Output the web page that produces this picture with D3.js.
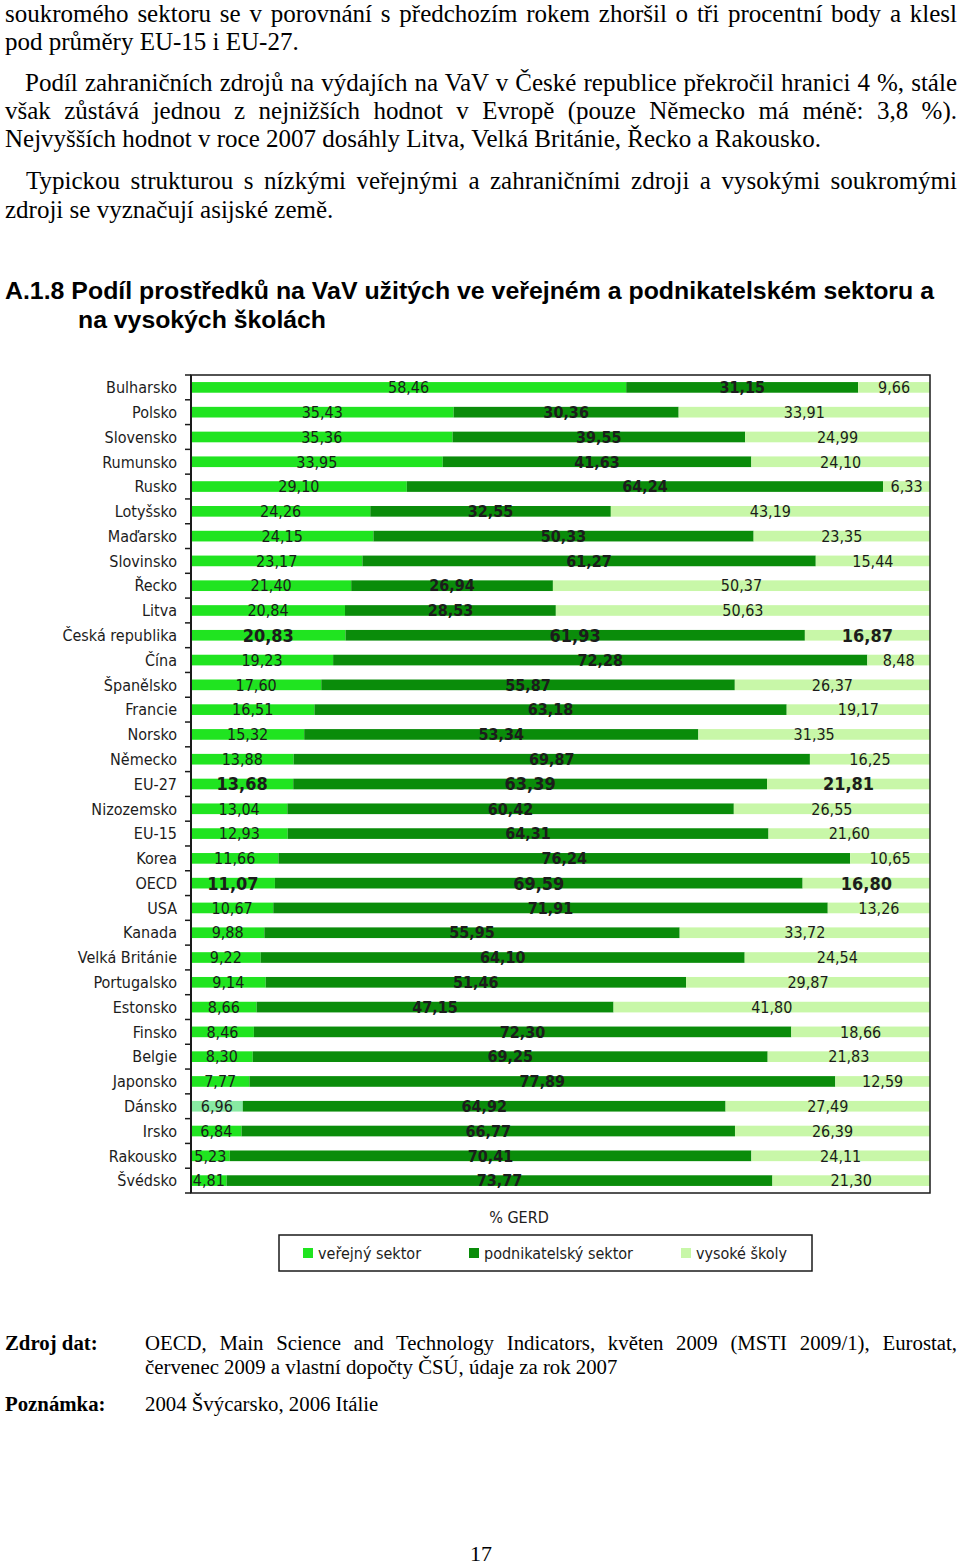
<!DOCTYPE html>
<html lang="cs">
<head>
<meta charset="utf-8">
<script src="https://cdn.jsdelivr.net/npm/d3@7"></script>
<style>
  html, body { margin: 0; padding: 0; background: #fff; }
  svg { display: block; }
  .serif { font-family: "Liberation Serif", "Times New Roman", serif; fill: #000; }
  .chart-font { font-family: "DejaVu Sans Condensed", "DejaVu Sans", sans-serif; fill: #1c1c1c; }
</style>
</head>
<body>
<div id="page"></div>
<script>
///// DATA //////
const categories = ['Bulharsko', 'Polsko', 'Slovensko', 'Rumunsko', 'Rusko', 'Lotyšsko', 'Maďarsko', 'Slovinsko', 'Řecko', 'Litva',
  'Česká republika', 'Čína', 'Španělsko', 'Francie', 'Norsko', 'Německo', 'EU-27', 'Nizozemsko', 'EU-15', 'Korea', 'OECD', 'USA',
  'Kanada', 'Velká Británie', 'Portugalsko', 'Estonsko', 'Finsko', 'Belgie', 'Japonsko', 'Dánsko', 'Irsko', 'Rakousko', 'Švédsko'];

const verejnySektor = [58.46, 35.43, 35.36, 33.95, 29.10, 24.26, 24.15, 23.17, 21.40, 20.84, 20.83, 19.23, 17.60, 16.51, 15.32, 13.88,
  13.68, 13.04, 12.93, 11.66, 11.07, 10.67, 9.88, 9.22, 9.14, 8.66, 8.46, 8.30, 7.77, 6.96, 6.84, 5.23, 4.81];

const podnikatelskySektor = [31.15, 30.36, 39.55, 41.63, 64.24, 32.55, 50.33, 61.27, 26.94, 28.53, 61.93, 72.28, 55.87, 63.18, 53.34, 69.87,
  63.39, 60.42, 64.31, 76.24, 69.59, 71.91, 55.95, 64.10, 51.46, 47.15, 72.30, 69.25, 77.89, 64.92, 66.77, 70.41, 73.77];

const vysokeSkoly = [9.66, 33.91, 24.99, 24.10, 6.33, 43.19, 23.35, 15.44, 50.37, 50.63, 16.87, 8.48, 26.37, 19.17, 31.35, 16.25,
  21.81, 26.55, 21.60, 10.65, 16.80, 13.26, 33.72, 24.54, 29.87, 41.80, 18.66, 21.83, 12.59, 27.49, 26.39, 24.11, 21.30];

const seriesKeys = ['verejny', 'podnik', 'vysoke'];
const seriesNames = ['veřejný sektor', 'podnikatelský sektor', 'vysoké školy'];
const highlighted = ['Česká republika', 'EU-27', 'OECD'];
const axisTitle = '% GERD';

const bodyLines = [
  'soukromého sektoru se v porovnání s předchozím rokem zhoršil o tři procentní body a klesl',
  'pod průměry EU-15 i EU-27.',
  'Podíl zahraničních zdrojů na výdajích na VaV v České republice překročil hranici 4 %, stále',
  'však zůstává jednou z nejnižších hodnot v Evropě (pouze Německo má méně: 3,8 %).',
  'Nejvyšších hodnot v roce 2007 dosáhly Litva, Velká Británie, Řecko a Rakousko.',
  'Typickou strukturou s nízkými veřejnými a zahraničními zdroji a vysokými soukromými',
  'zdroji se vyznačují asijské země.'
];
const titleLines = ['A.1.8 Podíl prostředků na VaV užitých ve veřejném a podnikatelském sektoru a', 'na vysokých školách'];
const sourceLines = ['OECD, Main Science and Technology Indicators, květen 2009 (MSTI 2009/1), Eurostat,',
  'červenec 2009 a vlastní dopočty ČSÚ, údaje za rok 2007'];
const noteLine = '2004 Švýcarsko, 2006 Itálie';

const colors = ['#20e420', '#0a8c0a', '#c8f7a8'];
const fmt = v => d3.format('.2f')(v).replace('.', ',');

///// PÁGINA //////
const svg = d3.select('#page').append('svg')
  .attr('width', 960).attr('height', 1565);

function justify(sel, width) {
  sel.each(function() {
    const natural = this.getComputedTextLength();
    const spaces = (this.textContent.match(/ /g) || []).length;
    if (spaces) d3.select(this).attr('word-spacing', (width - natural) / spaces);
  });
}

// Texto superior
const bodyPos = [
  {x: 5, y: 22, j: true}, {x: 5, y: 50, j: false},
  {x: 25, y: 91, j: true}, {x: 5, y: 119, j: true}, {x: 5, y: 147, j: false},
  {x: 26, y: 189, j: true}, {x: 5, y: 218, j: false}
];
bodyLines.forEach((t, i) => {
  const p = bodyPos[i];
  const el = svg.append('text').attr('class', 'serif')
    .attr('x', p.x).attr('y', p.y)
    .style('font-size', '25px')
    .text(t);
  if (p.j) justify(el, 957 - p.x);
});

// Título
svg.append('text')
  .attr('x', 5).attr('y', 299)
  .attr('textLength', 929).attr('lengthAdjust', 'spacingAndGlyphs')
  .style('font-family', '"Liberation Sans Narrow", "Liberation Sans", Arial, sans-serif')
  .style('font-weight', 'bold').style('font-size', '24px')
  .text(titleLines[0]);
svg.append('text')
  .attr('x', 78).attr('y', 328)
  .attr('textLength', 248).attr('lengthAdjust', 'spacingAndGlyphs')
  .style('font-family', '"Liberation Sans Narrow", "Liberation Sans", Arial, sans-serif')
  .style('font-weight', 'bold').style('font-size', '24px')
  .text(titleLines[1]);

///// GRÁFICO //////
const data = categories.map((c, i) => ({
  cat: c, verejny: verejnySektor[i], podnik: podnikatelskySektor[i], vysoke: vysokeSkoly[i]
}));

const stacked = d3.stack().keys(seriesKeys).offset(d3.stackOffsetExpand)(data);

const plotLeft = 191, plotRight = 930, plotTop = 375, plotBottom = 1193;

const x = d3.scaleLinear().domain([0, 1]).range([plotLeft, plotRight]);
const y = d3.scaleBand().domain(categories).range([plotTop, plotBottom]).padding(0);
const barH = y.bandwidth() * 0.43;

const chart = svg.append('g');

// Barras
stacked.forEach((serie, si) => {
  chart.append('g').selectAll('rect')
    .data(serie)
    .join('rect')
    .attr('x', d => x(d[0]))
    .attr('width', d => x(d[1]) - x(d[0]))
    .attr('y', d => y(d.data.cat) + (y.bandwidth() - barH) / 2)
    .attr('height', barH)
    .attr('fill', d => (si === 0 && d.data.cat === 'Dánsko') ? '#88eaa2' : colors[si]);
});

// Etiquetas de valores
stacked.forEach((serie, si) => {
  chart.append('g').selectAll('text')
    .data(serie)
    .join('text')
    .attr('class', 'chart-font')
    .attr('x', d => (x(d[0]) + x(d[1])) / 2)
    .attr('y', d => y(d.data.cat) + y.bandwidth() / 2)
    .attr('dy', '0.36em')
    .attr('text-anchor', 'middle')
    .style('font-size', d => highlighted.includes(d.data.cat) ? '18px' : '16px')
    .style('font-weight', d => (si === 1 || highlighted.includes(d.data.cat)) ? 'bold' : 'normal')
    .text(d => fmt(d.data[seriesKeys[si]]));
});

// Eje vertical con marcas entre categorías
chart.append('g').selectAll('line')
  .data(d3.range(categories.length + 1))
  .join('line')
  .attr('x1', plotLeft - 6).attr('x2', plotLeft)
  .attr('y1', i => i < categories.length ? y(categories[i]) : y.range()[1])
  .attr('y2', i => i < categories.length ? y(categories[i]) : y.range()[1])
  .attr('stroke', '#1a1a1a').attr('stroke-width', 1.5);

chart.append('rect')
  .attr('x', plotLeft).attr('y', plotTop)
  .attr('width', plotRight - plotLeft).attr('height', plotBottom - plotTop)
  .attr('fill', 'none').attr('stroke', '#1a1a1a').attr('stroke-width', 1.5);

chart.append('line')
  .attr('x1', plotLeft).attr('x2', plotLeft).attr('y1', plotTop).attr('y2', plotBottom)
  .attr('stroke', '#1a1a1a').attr('stroke-width', 2);

// Nombres de países
chart.append('g').selectAll('text')
  .data(categories)
  .join('text')
  .attr('class', 'chart-font')
  .attr('x', plotLeft - 14)
  .attr('y', d => y(d) + y.bandwidth() / 2)
  .attr('dy', '0.36em')
  .attr('text-anchor', 'end')
  .style('font-size', '16px')
  .text(d => d);

// Título del eje
chart.append('text')
  .attr('class', 'chart-font')
  .attr('x', 519).attr('y', 1217).attr('dy', '0.36em')
  .attr('text-anchor', 'middle')
  .style('font-size', '16px')
  .text(axisTitle);

// Leyenda
const legend = chart.append('g');
legend.append('rect')
  .attr('x', 279).attr('y', 1235).attr('width', 533).attr('height', 36)
  .attr('fill', '#fff').attr('stroke', '#1a1a1a').attr('stroke-width', 1.5);

const legendX = [303, 469, 681];
seriesNames.forEach((n, i) => {
  legend.append('rect')
    .attr('x', legendX[i]).attr('y', 1248).attr('width', 10).attr('height', 10)
    .attr('fill', colors[i]);
  legend.append('text')
    .attr('class', 'chart-font')
    .attr('x', legendX[i] + 15).attr('y', 1253).attr('dy', '0.36em')
    .style('font-size', '16px')
    .text(n);
});

///// PIE //////
svg.append('text').attr('class', 'serif')
  .attr('x', 5).attr('y', 1350)
  .style('font-size', '20.8px').style('font-weight', 'bold')
  .text('Zdroj dat:');
const src0 = svg.append('text').attr('class', 'serif')
  .attr('x', 145).attr('y', 1350)
  .style('font-size', '20.8px')
  .text(sourceLines[0]);
justify(src0, 957 - 145);
svg.append('text').attr('class', 'serif')
  .attr('x', 145).attr('y', 1374)
  .style('font-size', '20.8px')
  .text(sourceLines[1]);

svg.append('text').attr('class', 'serif')
  .attr('x', 5).attr('y', 1411)
  .style('font-size', '20.8px').style('font-weight', 'bold')
  .text('Poznámka:');
svg.append('text').attr('class', 'serif')
  .attr('x', 145).attr('y', 1411)
  .style('font-size', '20.8px')
  .text(noteLine);

svg.append('text').attr('class', 'serif')
  .attr('x', 481).attr('y', 1561)
  .attr('text-anchor', 'middle')
  .style('font-size', '22px')
  .text('17');
</script>
</body>
</html>
